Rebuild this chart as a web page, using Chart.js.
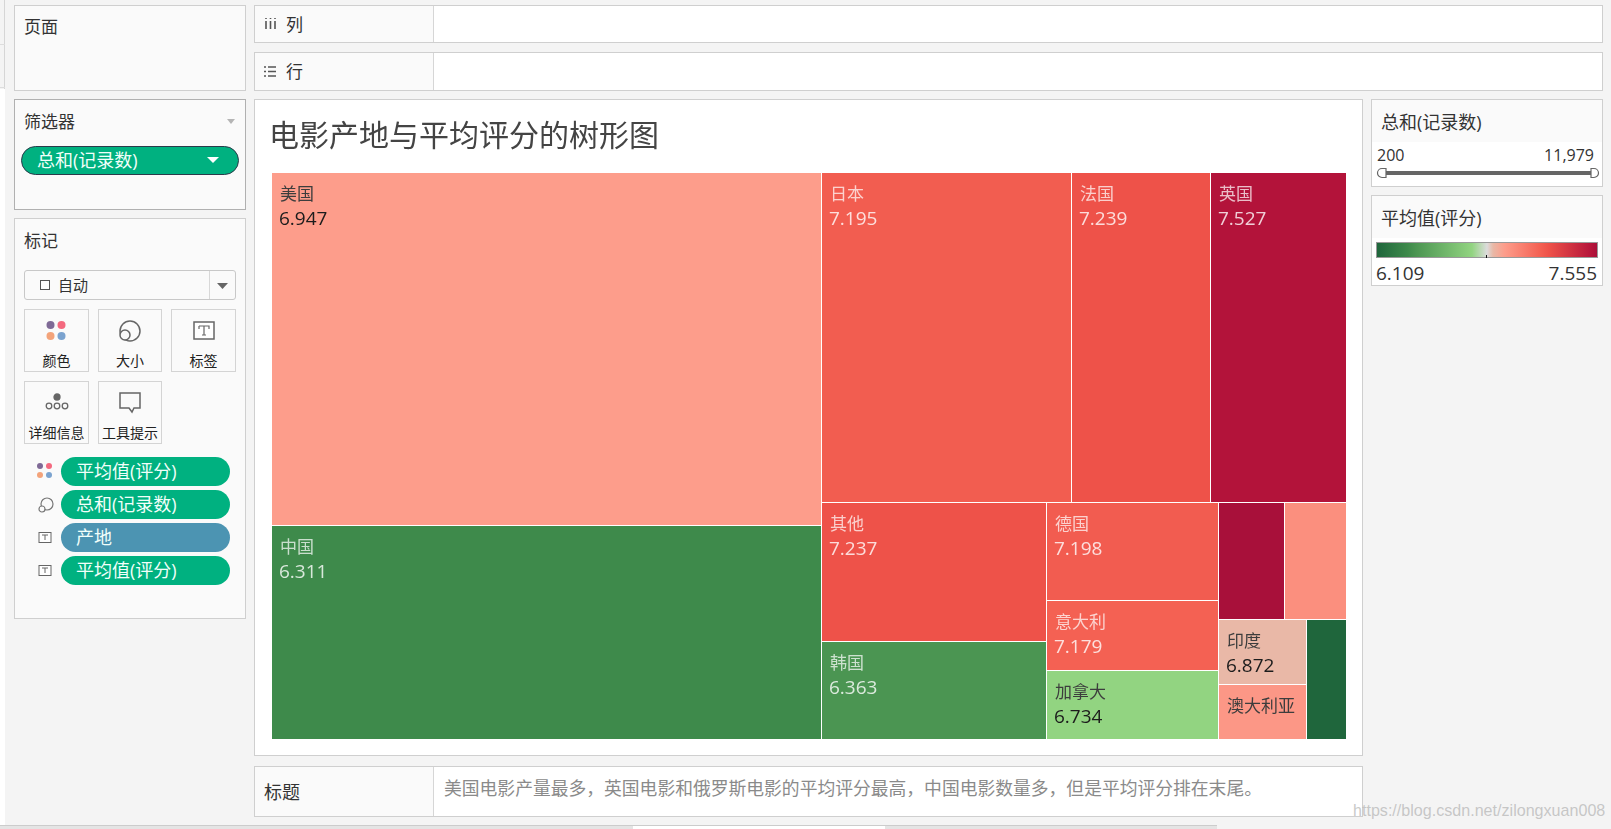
<!DOCTYPE html>
<html lang="zh">
<head>
<meta charset="utf-8">
<title>电影产地与平均评分的树形图</title>
<script src="https://cdn.jsdelivr.net/npm/chart.js@4/dist/chart.umd.min.js"></script>
<style>
  html, body { margin: 0; padding: 0; width: 1611px; height: 829px; overflow: hidden; background: #f4f4f4; }
  body { position: relative; font-family: "Open Sans", "Noto Sans CJK SC", sans-serif; color: #333; }
  .abs, .panel, .txt, .pill, .btn { position: absolute; box-sizing: border-box; }
  .panel { background: #fafafa; border: 1px solid #cfcfcf; }
  .white { background: #fff; }
  .txt { font-size: 17px; line-height: 24px; white-space: nowrap; }
  .pill { height: 29px; border-radius: 15px; background: #00b180; color: #f2fffa; font-size: 18px; line-height: 28px; padding-left: 15px; white-space: nowrap; }
  .btn { background: #fafafa; border: 1px solid #d4d4d4; text-align: center; font-size: 14px; color: #222; }
  .btn span { position: absolute; left: 0; right: 0; top: 41px; line-height: 20px; white-space: nowrap; }
  .btn svg { position: absolute; left: 50%; top: 8px; margin-left: -14px; }
  svg { position: absolute; overflow: visible; }
  #chartBox { position: absolute; left: 255px; top: 100px; }
</style>
</head>
<body>
<!-- left strip -->
<div class="abs" style="left:0;top:0;width:5px;height:825px;background:#f4f4f4;border-right:1px solid #d6d6d6"></div>
<div class="abs" style="left:0;top:44px;width:5px;height:44px;border-top:1px solid #ddd;border-bottom:1px solid #ddd"></div>
<div class="abs" style="left:0;top:89px;width:5px;height:736px;background:#fff"></div>

<!-- pages -->
<div class="panel" style="left:14px;top:5px;width:232px;height:86px"></div>
<div class="txt" style="left:24px;top:15px">页面</div>

<!-- filters -->
<div class="panel" style="left:14px;top:99px;width:232px;height:111px;border-color:#b0b0b0"></div>
<div class="txt" style="left:24px;top:110px">筛选器</div>
<svg style="left:0;top:0" width="1" height="1"><path d="M227 119h8l-4 5z" fill="#b5b5b5"/></svg>
<div class="pill" style="left:21px;top:146px;width:218px;height:29px;border:1px solid #2b3a4a;padding-left:15px;line-height:27px">总和(记录数)</div>
<svg style="left:0;top:0" width="1" height="1"><path d="M207 157h12l-6 6z" fill="#fff"/></svg>

<!-- marks -->
<div class="panel" style="left:14px;top:218px;width:232px;height:401px"></div>
<div class="txt" style="left:24px;top:229px">标记</div>
<div class="abs" style="left:24px;top:270px;width:212px;height:30px;background:#fafafa;border:1px solid #c8c8c8;border-radius:3px"></div>
<div class="abs" style="left:209px;top:271px;width:1px;height:28px;background:#d8d8d8"></div>
<div class="abs" style="left:40px;top:280px;width:10px;height:10px;border:1px solid #555;background:#fff"></div>
<div class="txt" style="left:58px;top:273px;font-size:15px">自动</div>
<svg style="left:0;top:0" width="1" height="1"><path d="M217 283h11l-5.500 6z" fill="#666"/></svg>

<div class="btn" style="left:24px;top:309px;width:65px;height:63px"><span>颜色</span>
  <svg width="28" height="28"><circle cx="7.500" cy="7" r="4" fill="#7f6a96"/><circle cx="18.500" cy="7" r="4" fill="#f4697f"/><circle cx="7.500" cy="18" r="4" fill="#f3a37a"/><circle cx="18.500" cy="18" r="4" fill="#7ba3cf"/></svg></div>
<div class="btn" style="left:98px;top:309px;width:64px;height:63px"><span>大小</span>
  <svg width="28" height="28" fill="none" stroke="#666" stroke-width="1.500"><circle cx="14" cy="13" r="10"/><circle cx="9" cy="17" r="5" fill="#fafafa"/></svg></div>
<div class="btn" style="left:171px;top:309px;width:65px;height:63px"><span>标签</span>
  <svg width="28" height="28"><rect x="4" y="4" width="20" height="17" fill="#fff" stroke="#666" stroke-width="1.500"/><path d="M9 8h10v3M14 8v9M12 17h4M9 8v3" fill="none" stroke="#666" stroke-width="1.200"/></svg></div>
<div class="btn" style="left:24px;top:381px;width:65px;height:63px"><span>详细信息</span>
  <svg width="28" height="28" fill="none" stroke="#666" stroke-width="1.300"><circle cx="14" cy="7" r="3" fill="#666"/><circle cx="6" cy="16" r="2.800"/><circle cx="14" cy="16" r="2.800"/><circle cx="22" cy="16" r="2.800"/></svg></div>
<div class="btn" style="left:98px;top:381px;width:64px;height:63px"><span>工具提示</span>
  <svg width="28" height="28" fill="none" stroke="#666" stroke-width="1.500"><path d="M4 3h20v15h-6l-2 4-3-4H4z"/></svg></div>

<svg style="left:36px;top:463px" width="18" height="18"><circle cx="4" cy="3" r="3" fill="#7f6a96"/><circle cx="13" cy="3" r="3" fill="#f4697f"/><circle cx="4" cy="12" r="3" fill="#f3a37a"/><circle cx="13" cy="12" r="3" fill="#7ba3cf"/></svg>
<div class="pill" style="left:61px;top:457px;width:169px">平均值(评分)</div>
<svg style="left:38px;top:498px" width="16" height="16" fill="none" stroke="#777" stroke-width="1.200"><circle cx="9" cy="6" r="6"/><circle cx="4" cy="11" r="3" fill="#fafafa"/></svg>
<div class="pill" style="left:61px;top:490px;width:169px">总和(记录数)</div>
<svg style="left:38px;top:532px" width="14" height="12"><rect x="1" y="0.500" width="12" height="10" fill="#fff" stroke="#666"/><path d="M4 3h6M7 3v5" stroke="#666"/></svg>
<div class="pill" style="left:61px;top:523px;width:169px;background:#4c94b2">产地</div>
<svg style="left:38px;top:565px" width="14" height="12"><rect x="1" y="0.500" width="12" height="10" fill="#fff" stroke="#666"/><path d="M4 3h6M7 3v5" stroke="#666"/></svg>
<div class="pill" style="left:61px;top:556px;width:169px">平均值(评分)</div>

<!-- shelves -->
<div class="panel" style="left:254px;top:5px;width:1349px;height:38px"></div>
<div class="abs white" style="left:433px;top:6px;width:1169px;height:36px;border-left:1px solid #d6d6d6"></div>
<svg style="left:0;top:0" width="1" height="1" stroke="#555" stroke-width="2"><path d="M266 21v8M270.500 21v8M275 21v8" stroke-width="1.600"/><path d="M266 18v1M270.500 18v1M275 18v1" stroke-width="1.600"/></svg>
<div class="txt" style="left:286px;top:13px">列</div>
<div class="panel" style="left:254px;top:52px;width:1349px;height:39px"></div>
<div class="abs white" style="left:433px;top:53px;width:1169px;height:37px;border-left:1px solid #d6d6d6"></div>
<svg style="left:0;top:0" width="1" height="1" stroke="#555" stroke-width="1.500"><path d="M268 67h8M268 71.500h8M268 76h8M264 67h2M264 71.500h2M264 76h2"/></svg>
<div class="txt" style="left:286px;top:60px">行</div>

<!-- view -->
<div class="panel white" style="left:254px;top:99px;width:1109px;height:657px"></div>
<div id="chartBox"><canvas id="treemapChart" width="1107" height="655"></canvas></div>
<div class="txt" style="left:269px;top:115px;font-size:30px;line-height:40px;color:#444">电影产地与平均评分的树形图</div>

<!-- size legend -->
<div class="panel" style="left:1371px;top:99px;width:232px;height:88px"></div>
<div class="abs white" style="left:1372px;top:142px;width:230px;height:44px"></div>
<div class="txt" style="left:1381px;top:110px;font-size:18px">总和(记录数)</div>
<div class="txt" style="left:1377px;top:143px;font-size:16px">200</div>
<div class="txt" style="right:17px;top:143px;font-size:16px">11,979</div>
<div class="abs" style="left:1381px;top:171px;width:214px;height:4px;background:#666"></div>
<svg style="left:0;top:0" width="1" height="1" fill="#fff" stroke="#666" stroke-width="1.200"><path d="M1386 168.500h-4a4.500 4.500 0 0 0 0 9h4z"/><path d="M1591 168.500h3a4.500 4.500 0 0 1 0 9h-3z"/></svg>

<!-- colour legend -->
<div class="panel" style="left:1371px;top:195px;width:232px;height:91px"></div>
<div class="abs white" style="left:1372px;top:238px;width:230px;height:47px"></div>
<div class="txt" style="left:1381px;top:206px;font-size:18px">平均值(评分)</div>
<div id="colourRamp" class="abs" style="left:1376px;top:242px;width:222px;height:16px;border:1px solid #999"></div>
<div class="abs" style="left:1486px;top:255px;width:1px;height:3px;background:#111"></div>
<div class="txt" style="left:1376px;top:261px;font-size:19px" id="rampMin"></div>
<div class="txt" style="right:14px;top:261px;font-size:19px" id="rampMax"></div>

<!-- caption -->
<div class="panel" style="left:254px;top:766px;width:1109px;height:51px"></div>
<div class="abs white" style="left:433px;top:767px;width:929px;height:49px;border-left:1px solid #d6d6d6"></div>
<div class="txt" style="left:264px;top:780px;font-size:18px">标题</div>
<div class="txt" style="left:444px;top:776px;font-size:17.800px;color:#8a8a8a">美国电影产量最多，英国电影和俄罗斯电影的平均评分最高，中国电影数量多，但是平均评分排在末尾。</div>

<!-- tabs -->
<div class="abs" style="left:0;top:825px;width:1217px;height:4px;background:#e4e4e4;border-top:1px solid #ccc;box-sizing:border-box"></div>
<div class="abs white" style="left:633px;top:826px;width:252px;height:3px"></div>
<div class="txt" style="left:1353px;top:798px;font-family:'Liberation Sans';font-size:16.100px;color:rgba(190,190,190,.85)">https://blog.csdn.net/zilongxuan008</div>

<script>
// 产地 (blank = no label shown in the reference, cell too small)
const countries = ['美国', '中国', '日本', '法国', '英国', '其他', '韩国', '德国', '意大利', '加拿大', '', '', '印度', '澳大利亚', ''];
const recordCounts = [11979, 7283, 5069, 2830, 2769, 1927, 1358, 1043, 745, 734, 478, 449, 354, 300, 297];
const avgRatings = [6.947, 6.311, 7.195, 7.239, 7.527, 7.237, 6.363, 7.198, 7.179, 6.734, 7.555, 7.0, 6.872, 6.97, 6.109];
// which cells sit together, directions alternate per level (columns, rows, columns...)
const nesting = [[0, 1], [[2, 3, 4], [[5, 6], [7, 8, 9], [[10, 11], [[12, 13], 14]]]]];

const ratingMin = 6.109, ratingMax = 7.555;
const rampPos = [0, 0.14, 0.176, 0.432, 0.5, 0.528, 0.58, 0.74, 0.78, 0.98, 1];
const rampColors = ['#1f663c', '#3e8a4b', '#4b9552', '#92d481', '#dcdcdc', '#e9b8a6', '#fd9d8b', '#f46153', '#ee5249', '#b3133a', '#a8103a'];

const hexToRgb = h => [1, 3, 5].map(i => parseInt(h.substr(i, 2), 16));

function ratingColor(v) {
    const t = (v - ratingMin) / (ratingMax - ratingMin);
    let i = 0;
    while (i < rampPos.length - 2 && t > rampPos[i + 1]) i++;
    const k = (t - rampPos[i]) / (rampPos[i + 1] - rampPos[i]);
    const a = hexToRgb(rampColors[i]), b = hexToRgb(rampColors[i + 1]);
    return `rgb(${a.map((c, n) => Math.round(c + (b[n] - c) * k)).join(',')})`;
}

const nodeTotal = n => Array.isArray(n) ? n.reduce((s, c) => s + nodeTotal(c), 0) : recordCounts[n];

// slice and dice the unit square by record count
function layout(node, x0, y0, x1, y1, vertical, out) {
    if (!Array.isArray(node)) { out[node] = { x: x0, y: y0, x1, y1 }; return out; }
    const total = nodeTotal(node);
    let pos = vertical ? y0 : x0;
    node.forEach(child => {
        const span = nodeTotal(child) / total * (vertical ? y1 - y0 : x1 - x0);
        if (vertical) layout(child, x0, pos, x1, pos + span, false, out);
        else layout(child, pos, y0, pos + span, y1, true, out);
        pos += span;
    });
    return out;
}

// rectangle cells on the chart's own x/y scales, reusing the bar element
class TreemapController extends Chart.DatasetController {
    update(mode) {
        const meta = this._cachedMeta;
        this.updateElements(meta.data, 0, meta.data.length, mode);
    }
    updateElements(rects, start, count, mode) {
        const { xScale, yScale } = this._cachedMeta;
        const cells = this.getDataset().data;
        for (let i = start; i < start + count; i++) {
            const c = cells[i];
            const left = Math.round(xScale.getPixelForValue(c.x)), right = Math.round(xScale.getPixelForValue(c.x1));
            const top = Math.round(yScale.getPixelForValue(c.y)), bottom = Math.round(yScale.getPixelForValue(c.y1));
            this.updateElement(rects[i], i, {
                x: (left + right) / 2, y: top, base: bottom, width: right - left, height: bottom - top,
                horizontal: false,
                inflateAmount: 0,
                borderSkipped: { top: false, right: false, bottom: false, left: false },
                options: this.resolveDataElementOptions(i, mode)
            }, mode);
        }
    }
}
TreemapController.id = 'treemap';
TreemapController.defaults = { dataElementType: 'bar' };
Chart.register(TreemapController);

const cellLabels = {
    id: 'cellLabels',
    afterDatasetsDraw(chart) {
        const ctx = chart.ctx;
        ctx.save();
        ctx.textBaseline = 'middle';
        chart.getDatasetMeta(0).data.forEach((el, i) => {
            if (!countries[i]) return;
            const [r, g, b] = chart.data.datasets[0].backgroundColor[i].match(/\d+/g).map(Number);
            const dark = 0.299 * r + 0.587 * g + 0.114 * b > 160;
            const left = el.x - el.width / 2 + 8, top = el.y;
            ctx.fillStyle = dark ? '#3d3d3d' : 'rgba(255,255,255,.72)';
            ctx.font = '17px "Noto Sans CJK SC"';
            ctx.fillText(countries[i], left, top + 21);
            if (el.height < 60) return;
            ctx.fillStyle = dark ? '#1c1c1c' : 'rgba(255,255,255,.8)';
            ctx.font = '19px "Open Sans"';
            ctx.fillText(avgRatings[i].toFixed(3), left - 1, top + 47);
        });
        ctx.restore();
    }
};

new Chart(document.getElementById('treemapChart'), {
    type: 'treemap',
    data: {
        labels: countries,
        datasets: [{
            data: layout(nesting, 0, 0, 1, 1, false, []),
            backgroundColor: avgRatings.map(ratingColor),
            borderColor: '#fff',
            borderWidth: { top: 0, left: 0, right: 1, bottom: 1 }
        }]
    },
    options: {
        responsive: false,
        animation: false,
        layout: { padding: { left: 17, right: 15, bottom: 15, top: 73 } },
        scales: {
            x: { type: 'linear', display: false, min: 0, max: 1 },
            y: { type: 'linear', display: false, min: 0, max: 1, reverse: true }
        },
        plugins: {
            legend: { display: false },
            tooltip: { enabled: false }
        }
    },
    plugins: [cellLabels]
});

document.getElementById('colourRamp').style.background =
    `linear-gradient(to right, ${rampColors.map((c, i) => `${c} ${rampPos[i] * 100}%`).join(', ')})`;
document.getElementById('rampMin').textContent = ratingMin.toFixed(3);
document.getElementById('rampMax').textContent = ratingMax.toFixed(3);
</script>
</body>
</html>
